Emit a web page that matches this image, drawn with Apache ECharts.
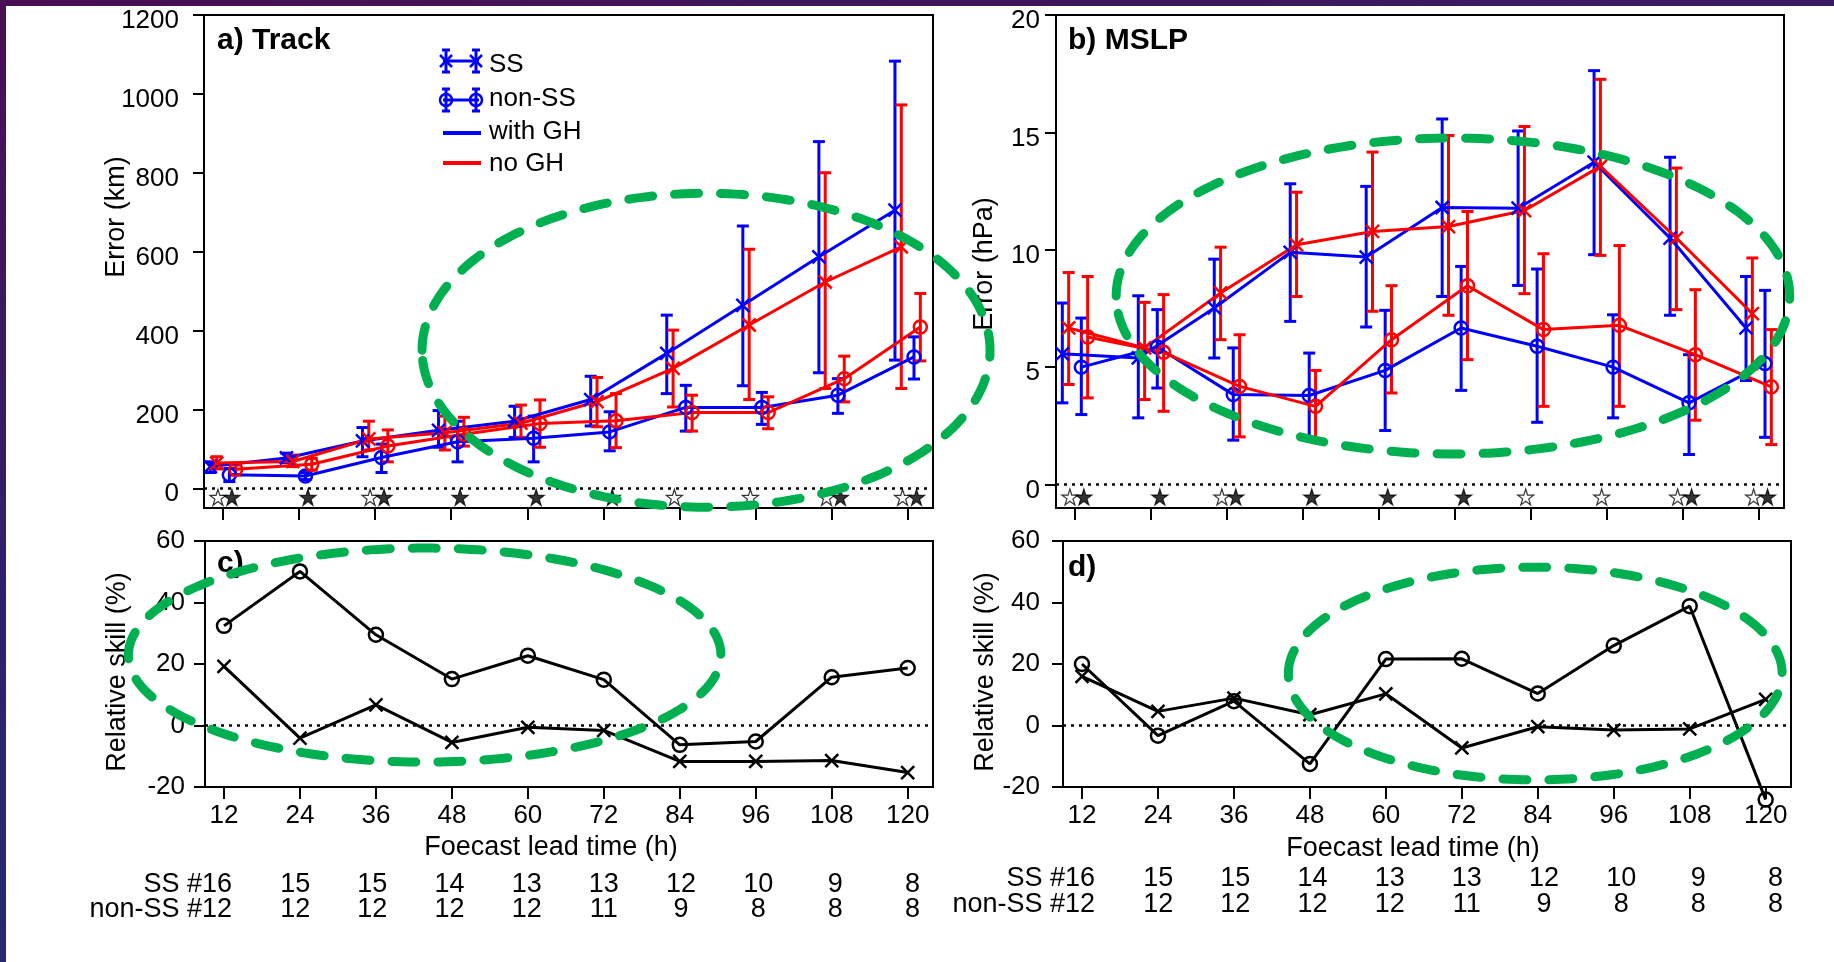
<!DOCTYPE html>
<html>
<head>
<meta charset="utf-8">
<script src="https://cdn.jsdelivr.net/npm/echarts@6/dist/echarts.min.js"></script>
<style>
  html, body { margin: 0; padding: 0; background: #ffffff; }
  #main { position: absolute; left: 0; top: 0; width: 1834px; height: 962px; }
  #frameTop { position: absolute; left: 0; top: 0; width: 1834px; height: 6px;
    background: linear-gradient(90deg, #4a0e54 0%, #3e165d 50%, #3a1a60 100%); }
  #frameLeft { position: absolute; left: 0; top: 0; width: 6px; height: 962px;
    background: linear-gradient(180deg, #4a0e54 0%, #30206a 60%, #252a70 100%); }
</style>
</head>
<body>
<div id="main"></div>
<div id="frameTop"></div>
<div id="frameLeft"></div>
<script>
// ---- data ----
const leadHours = [12, 24, 36, 48, 60, 72, 84, 96, 108, 120];
const ssCounts = [16, 15, 15, 14, 13, 13, 12, 10, 9, 8];
const nonSsCounts = [12, 12, 12, 12, 12, 11, 9, 8, 8, 8];

const trackTicks = [0, 200, 400, 600, 800, 1000, 1200];
const mslpTicks = [0, 5, 10, 15, 20];
const skillTicks = [-20, 0, 20, 40, 60];

// a) track error (km)
const trackSsGh = [55, 77, 120, 147, 170, 225, 342, 464, 587, 705];
const trackSsGhLow = [40, 65, 80, 104, 129, 158, 240, 260, 293, 325];
const trackSsGhHigh = [67, 89, 154, 197, 208, 284, 439, 665, 879, 1083];
const trackSsNoGh = [64, 68, 125, 141, 165, 220, 304, 414, 523, 612];
const trackSsNoGhLow = [49, 55, 97, 97, 129, 156, 206, 225, 253, 253];
const trackSsNoGhHigh = [80, 84, 170, 183, 211, 281, 401, 606, 800, 972];
const trackNonSsGh = [34, 31, 78, 118, 127, 143, 205, 205, 236, 333];
const trackNonSsGhLow = [17, 22, 40, 67, 67, 95, 145, 162, 190, 277];
const trackNonSsGhHigh = [50, 40, 112, 170, 183, 194, 261, 243, 278, 384];
const trackNonSsNoGh = [48, 61, 107, 137, 164, 171, 192, 192, 278, 409];
const trackNonSsNoGhLow = [34, 46, 67, 107, 104, 103, 145, 151, 219, 323];
const trackNonSsNoGhHigh = [59, 76, 148, 180, 224, 240, 236, 232, 335, 494];
const trackStarOpen = [12, 36, 84, 96, 108, 120];
const trackStarFilled = [12, 24, 36, 48, 60, 72, 108, 120];

// b) MSLP error (hPa)
const mslpSsGh = [5.57, 5.39, 7.52, 9.89, 9.69, 11.8, 11.77, 13.73, 10.5, 6.67];
const mslpSsGhLow = [3.48, 2.84, 5.39, 6.95, 6.71, 8.01, 8.48, 9.79, 7.21, 4.43];
const mslpSsGhHigh = [7.73, 8.04, 9.6, 12.81, 12.7, 15.57, 15.06, 17.63, 13.94, 8.86];
const mslpSsNoGh = [6.67, 5.82, 8.16, 10.21, 10.78, 10.99, 11.67, 13.55, 10.5, 7.28];
const mslpSsNoGhLow = [4.26, 3.62, 6.17, 8.01, 7.38, 7.21, 8.13, 9.76, 7.45, 4.92];
const mslpSsNoGhHigh = [9.03, 7.76, 10.11, 12.45, 14.16, 14.87, 15.25, 17.26, 13.48, 9.65];
const mslpNonSsGh = [5.0, 5.86, 3.83, 3.79, 4.86, 6.67, 5.89, 5.0, 3.48, 5.15];
const mslpNonSsGhLow = [2.98, 4.11, 1.89, 1.94, 2.3, 4.01, 2.65, 2.84, 1.28, 2.01];
const mslpNonSsGhHigh = [7.09, 7.45, 5.82, 5.6, 7.42, 9.29, 9.18, 7.23, 5.53, 8.27];
const mslpNonSsNoGh = [6.28, 5.63, 4.18, 3.33, 6.17, 8.47, 6.6, 6.78, 5.53, 4.16];
const mslpNonSsNoGhLow = [3.69, 3.12, 2.03, 1.84, 3.9, 5.32, 3.33, 3.33, 2.74, 1.7];
const mslpNonSsNoGhHigh = [8.86, 8.09, 6.38, 4.86, 8.47, 11.63, 9.83, 10.18, 8.3, 6.6];
const mslpStarOpen = [12, 36, 84, 96, 108, 120];
const mslpStarFilled = [12, 24, 36, 48, 60, 72, 108, 120];

// c) relative skill of track (%)
const skillTrackSs = [19.2, -4.1, 6.7, -5.5, -0.6, -1.6, -11.7, -11.7, -11.4, -15.3];
const skillTrackNonSs = [32.4, 50.1, 29.5, 15.1, 22.7, 14.9, -6.3, -5.2, 15.7, 18.7];

// d) relative skill of MSLP (%)
const skillMslpSs = [16.0, 4.6, 8.9, 3.5, 10.3, -7.3, -0.4, -1.5, -1.1, 8.5];
const skillMslpNonSs = [20.0, -3.3, 7.9, -12.5, 21.6, 21.7, 10.4, 26.0, 38.8, -24.1];

// ---- styling ----
const FONT = '"Liberation Sans", Arial, Helvetica, sans-serif';
const BLUE = '#0000ff';
const RED = '#ff0000';
const GREEN = '#00b050';
const CROSS = 'path://M0,0L10,10M10,0L0,10';
const STAR = 'path://M50,2L61.2,36.6L97.6,36.6L68.2,58L79.4,92.6L50,71.2L20.6,92.6L31.8,58L2.4,36.6L38.8,36.6Z';

const chart = echarts.init(document.getElementById('main'), null, { renderer: 'canvas' });

const grids = [
  { left: 204, top: 15, width: 729, height: 493 },
  { left: 1056, top: 15, width: 728, height: 493 },
  { left: 205, top: 541, width: 728, height: 246 },
  { left: 1063, top: 541, width: 728, height: 246 }
].map(g => Object.assign({ show: true, borderColor: '#000', borderWidth: 2, backgroundColor: 'transparent' }, g));

const plainNumber = v => String(v);

const xAxes = [0, 1, 2, 3].map(i => ({
  type: 'value', gridIndex: i, min: 9, max: 124,
  axisLine: { show: true, onZero: false, lineStyle: { color: '#000', width: 2 } },
  axisTick: { show: true, length: 12, customValues: leadHours, lineStyle: { color: '#000', width: 2 } },
  axisLabel: { show: i >= 2, customValues: leadHours, formatter: plainNumber,
    fontSize: 26, color: '#000', fontFamily: FONT, margin: 16 },
  splitLine: { show: false }
}));

function yAxis(i, min, max, ticks, margin, lowered) {
  const label = { customValues: ticks, formatter: plainNumber, fontSize: 26, color: '#000',
    fontFamily: FONT, margin: margin };
  if (lowered) {
    label.verticalAlign = 'top';
    label.lineHeight = 12;
  }
  return {
    type: 'value', gridIndex: i, min: min, max: max,
    axisLine: { show: true, onZero: false, lineStyle: { color: '#000', width: 2 } },
    axisTick: { show: true, length: 11, customValues: ticks, lineStyle: { color: '#000', width: 2 } },
    axisLabel: label,
    splitLine: { show: false }
  };
}
const yAxes = [
  yAxis(0, -50, 1200, trackTicks, 25, true),
  yAxis(1, -1, 20, mslpTicks, 16, true),
  yAxis(2, -20, 60, skillTicks, 20, false),
  yAxis(3, -20, 60, skillTicks, 23, false)
];

const zeroLine = {
  silent: true, symbol: 'none', animation: false,
  label: { show: false },
  lineStyle: { color: '#000', type: [3, 5], width: 2.5 },
  data: [{ yAxis: 0 }]
};

function errorBars(axis, low, high, color, shift) {
  return {
    type: 'custom', xAxisIndex: axis, yAxisIndex: axis, silent: true, z: 2,
    data: leadHours.map((h, i) => [h + shift, low[i], high[i]]),
    encode: { x: 0, y: [1, 2] },
    renderItem: function (params, api) {
      const x = api.value(0);
      const lo = api.coord([x, api.value(1)]);
      const hi = api.coord([x, api.value(2)]);
      const half = 6;
      const style = { stroke: color, lineWidth: 3, fill: null };
      return {
        type: 'group',
        children: [
          { type: 'line', shape: { x1: lo[0], y1: lo[1], x2: hi[0], y2: hi[1] }, style: style },
          { type: 'line', shape: { x1: lo[0] - half, y1: lo[1], x2: lo[0] + half, y2: lo[1] }, style: style },
          { type: 'line', shape: { x1: hi[0] - half, y1: hi[1], x2: hi[0] + half, y2: hi[1] }, style: style }
        ]
      };
    }
  };
}

function errorLine(axis, values, color, marker, shift, size, extra) {
  return Object.assign({
    type: 'line', xAxisIndex: axis, yAxisIndex: axis, silent: true, z: 3, clip: false,
    data: leadHours.map((h, i) => [h + shift, values[i]]),
    symbol: marker, symbolSize: size, showAllSymbol: true,
    lineStyle: { color: color, width: 3 },
    itemStyle: { color: 'rgba(0,0,0,0)', borderColor: color, borderWidth: 2.5 }
  }, extra || {});
}

function stars(axis, hours, shift, yPos, fill) {
  return {
    type: 'scatter', xAxisIndex: axis, yAxisIndex: axis, silent: true, z: 4, clip: false,
    data: hours.map(h => [h + shift, yPos]),
    symbol: STAR, symbolSize: 16,
    itemStyle: { color: fill, borderColor: '#000', borderWidth: 1.2 }
  };
}

function errorPanel(axis, groups, openHours, filledHours, starY) {
  const out = [];
  groups.forEach((g, k) => {
    out.push(errorBars(axis, g.low, g.high, g.color, g.shift));
    out.push(errorLine(axis, g.values, g.color, g.marker, g.shift, 13,
      k === 0 ? { markLine: zeroLine } : null));
  });
  out.push(stars(axis, openHours, -0.8, starY, '#ffffff'));
  out.push(stars(axis, filledHours, 1.4, starY, '#000000'));
  return out;
}

const series = [].concat(
  errorPanel(0, [
    { values: trackSsGh, low: trackSsGhLow, high: trackSsGhHigh, color: BLUE, marker: CROSS, shift: -2 },
    { values: trackSsNoGh, low: trackSsNoGhLow, high: trackSsNoGhHigh, color: RED, marker: CROSS, shift: -1 },
    { values: trackNonSsGh, low: trackNonSsGhLow, high: trackNonSsGhHigh, color: BLUE, marker: 'circle', shift: 1 },
    { values: trackNonSsNoGh, low: trackNonSsNoGhLow, high: trackNonSsNoGhHigh, color: RED, marker: 'circle', shift: 2 }
  ], trackStarOpen, trackStarFilled, -23),
  errorPanel(1, [
    { values: mslpSsGh, low: mslpSsGhLow, high: mslpSsGhHigh, color: BLUE, marker: CROSS, shift: -2 },
    { values: mslpSsNoGh, low: mslpSsNoGhLow, high: mslpSsNoGhHigh, color: RED, marker: CROSS, shift: -1 },
    { values: mslpNonSsGh, low: mslpNonSsGhLow, high: mslpNonSsGhHigh, color: BLUE, marker: 'circle', shift: 1 },
    { values: mslpNonSsNoGh, low: mslpNonSsNoGhLow, high: mslpNonSsNoGhHigh, color: RED, marker: 'circle', shift: 2 }
  ], mslpStarOpen, mslpStarFilled, -0.53),
  [
    errorLine(2, skillTrackNonSs, '#000', 'circle', 0, 14, { markLine: zeroLine }),
    errorLine(2, skillTrackSs, '#000', CROSS, 0, 13),
    errorLine(3, skillMslpNonSs, '#000', 'circle', 0, 14, { markLine: zeroLine }),
    errorLine(3, skillMslpSs, '#000', CROSS, 0, 13)
  ]
);

chart.setOption({
  animation: false,
  textStyle: { fontFamily: FONT },
  grid: grids,
  xAxis: xAxes,
  yAxis: yAxes,
  series: series
});

// ---- text, legend and highlighted regions ----
function toPx(g, x, y) { return chart.convertToPixel({ gridIndex: g }, [x, y]); }

function text(str, x, y, opts) {
  const o = opts || {};
  const align = o.align || 'center';
  return {
    type: 'text', x: x, y: y, rotation: o.rotation || 0, z: 50, silent: true,
    style: {
      text: str, fill: '#000',
      font: (o.bold ? 'bold ' : '') + (o.size || 26) + 'px ' + FONT,
      textAlign: align, textVerticalAlign: 'middle', align: align, verticalAlign: 'middle'
    }
  };
}

const graphics = [];

// panel titles
graphics.push(text('a) Track', 217, 41, { bold: true, size: 30, align: 'left' }));
graphics.push(text('b) MSLP', 1068, 41, { bold: true, size: 30, align: 'left' }));
graphics.push(text('c)', 217, 564, { bold: true, size: 30, align: 'left' }));
graphics.push(text('d)', 1068, 568, { bold: true, size: 30, align: 'left' }));

// axis titles
graphics.push(text('Error (km)', 117, 217, { size: 27, rotation: Math.PI / 2 }));
graphics.push(text('Error (hPa)', 985, 264, { size: 27, rotation: Math.PI / 2 }));
graphics.push(text('Relative skill (%)', 118, 672, { size: 27, rotation: Math.PI / 2 }));
graphics.push(text('Relative skill (%)', 986, 672, { size: 27, rotation: Math.PI / 2 }));
graphics.push(text('Foecast lead time (h)', 551, 848, { size: 27 }));
graphics.push(text('Foecast lead time (h)', 1413, 849, { size: 27 }));

// sample counts under the skill panels
[{ g: 2, ySs: 885, yNon: 910, first: 8, base: 0 },
 { g: 3, ySs: 879, yNon: 905, first: 13, base: 5 }].forEach(p => {
  leadHours.forEach((h, i) => {
    const x = toPx(p.g, h, 0)[0];
    if (i === 0) {
      graphics.push(text('SS #' + ssCounts[i], x + p.first, p.ySs, { size: 27, align: 'right' }));
      graphics.push(text('non-SS #' + nonSsCounts[i], x + p.first, p.yNon, { size: 27, align: 'right' }));
    } else {
      const cx = x + p.base + (h - 72) / 12 * 1.2;
      graphics.push(text(String(ssCounts[i]), cx, p.ySs, { size: 27 }));
      graphics.push(text(String(nonSsCounts[i]), cx, p.yNon, { size: 27 }));
    }
  });
});

// legend
function seg(x1, y1, x2, y2, color, w) {
  return { type: 'line', z: 50, silent: true, shape: { x1: x1, y1: y1, x2: x2, y2: y2 },
    style: { stroke: color, lineWidth: w } };
}
function legendBarIcon(y, kind) {
  const items = [seg(443, y, 479, y, BLUE, 3)];
  [446, 476].forEach(x => {
    items.push(seg(x, y - 11, x, y + 11, BLUE, 3));
    items.push(seg(x - 4, y - 11, x + 4, y - 11, BLUE, 3));
    items.push(seg(x - 4, y + 11, x + 4, y + 11, BLUE, 3));
    if (kind === 'cross') {
      items.push(seg(x - 6, y - 6, x + 6, y + 6, BLUE, 2.5));
      items.push(seg(x + 6, y - 6, x - 6, y + 6, BLUE, 2.5));
    } else {
      items.push({ type: 'circle', z: 50, silent: true, shape: { cx: x, cy: y, r: 6 },
        style: { fill: null, stroke: BLUE, lineWidth: 2.5 } });
    }
  });
  return items;
}
legendBarIcon(61, 'cross').forEach(e => graphics.push(e));
legendBarIcon(100, 'circle').forEach(e => graphics.push(e));
graphics.push(seg(443, 133, 481, 133, BLUE, 4));
graphics.push(seg(443, 163, 481, 163, RED, 4));
graphics.push(text('SS', 489, 65, { size: 26, align: 'left' }));
graphics.push(text('non-SS', 489, 99, { size: 26, align: 'left' }));
graphics.push(text('with GH', 489, 132, { size: 26, align: 'left' }));
graphics.push(text('no GH', 489, 164, { size: 26, align: 'left' }));

// dashed green ellipses marking highlighted ranges (axis units)
const highlightRegions = [
  { grid: 0, hour: 88.2, value: 350, hourRadius: 44.8, valueRadius: 398 },
  { grid: 1, hour: 71.7, value: 8.03, hourRadius: 53.2, valueRadius: 6.73 },
  { grid: 2, hour: 43.7, value: 22.9, hourRadius: 46.8, valueRadius: 34.8 },
  { grid: 3, hour: 83.6, value: 16.9, hourRadius: 39, valueRadius: 34.6 }
];
highlightRegions.forEach(r => {
  const c = toPx(r.grid, r.hour, r.value);
  const rx = Math.abs(toPx(r.grid, r.hour + r.hourRadius, r.value)[0] - c[0]);
  const ry = Math.abs(c[1] - toPx(r.grid, r.hour, r.value + r.valueRadius)[1]);
  const pts = [];
  for (let k = 0; k < 240; k++) {
    const t = Math.PI + k / 240 * Math.PI * 2;
    pts.push([c[0] + rx * Math.cos(t), c[1] + ry * Math.sin(t)]);
  }
  graphics.push({
    type: 'polygon', z: 100, silent: true, shape: { points: pts },
    style: { fill: null, stroke: GREEN, lineWidth: 9, lineDash: [24, 22], lineCap: 'round' }
  });
});

chart.setOption({ graphic: graphics });
</script>
</body>
</html>
